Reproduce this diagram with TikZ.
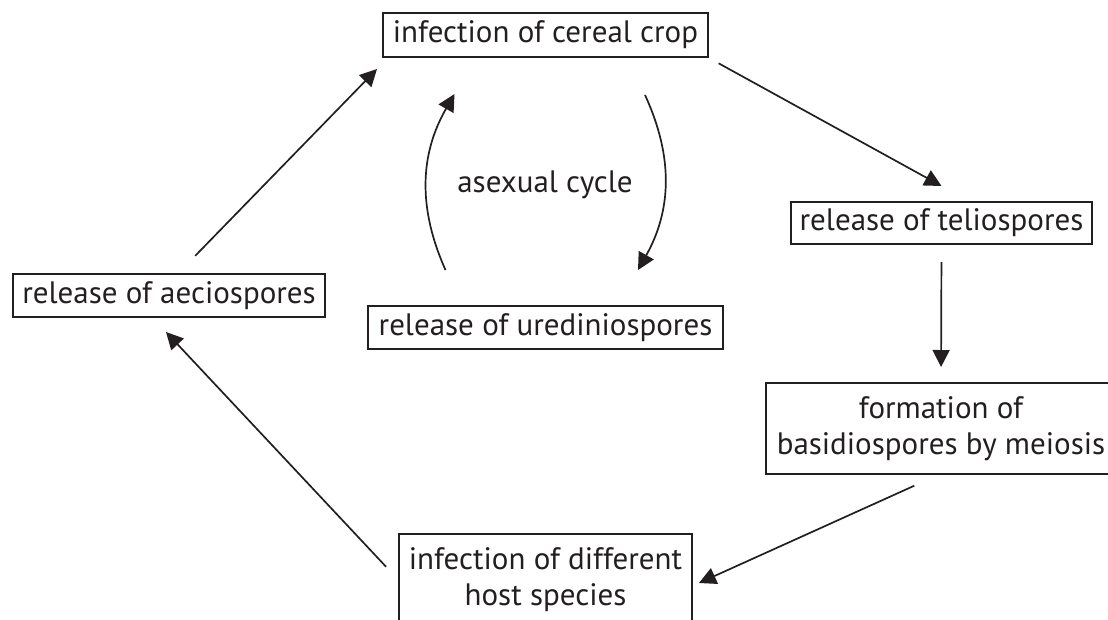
\documentclass[tikz,border=0pt]{standalone}
\usepackage{fontspec}
\setmainfont{PT Sans}
\usetikzlibrary{arrows.meta}
\definecolor{ink}{RGB}{35,31,32}
\begin{document}
\begin{tikzpicture}[x=1pt,y=-1pt,
  box/.style={draw=ink,text=ink,line width=2pt,inner sep=0pt,align=center,
    font=\fontsize{31}{36}\selectfont},
  link/.style={draw=ink,line width=1.7pt,-{Triangle[length=17pt,width=17pt]}}]
\useasboundingbox (0,0) rectangle (1108,619);
\clip (0,0) rectangle (1108,619);
% boxes
\node [box,minimum width=325,minimum height=44] (crop) at (545.5,35) {infection of cereal crop};
\node [box,minimum width=301,minimum height=42] (telio) at (941.5,223) {release of teliospores};
\node [box,minimum width=350,minimum height=91] (form) at (941,428.5) {formation of\\basidiospores by meiosis};
\node [box,minimum width=293,minimum height=91] (host) at (545.5,579.5) {infection of different\\host species};
\node [box,minimum width=312,minimum height=43] (aecio) at (169,295.5) {release of aeciospores};
\node [box,minimum width=355,minimum height=43] (uredo) at (545.5,327.5) {release of urediniospores};
\node [text=ink,font=\fontsize{31}{36}\selectfont] (cycle) at (545,185) {asexual cycle};
% sexual cycle
\draw [link,shorten <=24pt] ([xshift=9.5pt]aecio.north) -- ([shift={(-5pt,-11pt)}]crop.south west);
\draw [link,shorten <=11pt] (crop.south east) -- ([yshift=15pt]telio.north);
\draw [link,shorten <=17pt,shorten >=15pt] (telio.south) -- (form.north);
\draw [link,shorten <=26pt] ([xshift=-3pt]form.south) -- ([shift={(6pt,-3.5pt)}]host.east);
\draw [link,shorten <=17.5pt] (host.west) -- ([shift={(-3pt,-14pt)}]aecio.south);
% asexual cycle
\draw [link] ([shift={(-100,-35)}]uredo.north) to [bend left=27] ([shift={(-91,36)}]crop.south);
\draw [link] ([shift={(99.5,37)}]crop.south) to [bend left=27] ([shift={(92.5,-35)}]uredo.north);
\end{tikzpicture}
\end{document}
